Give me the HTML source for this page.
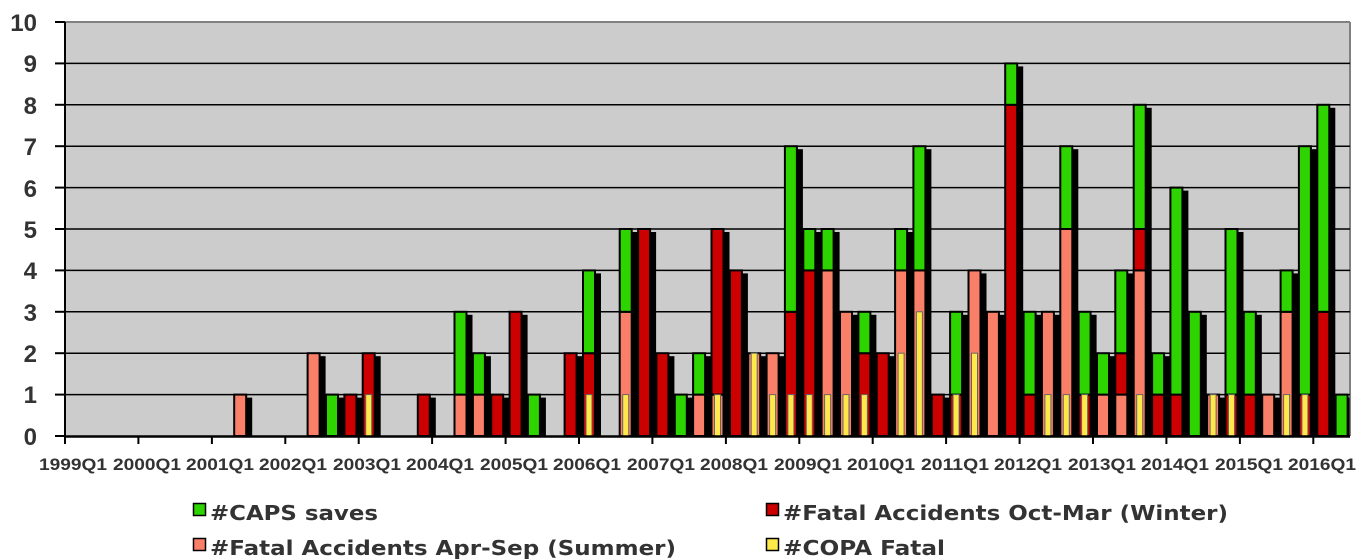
<!DOCTYPE html>
<html><head><meta charset="utf-8"><style>
html,body{margin:0;padding:0;background:#fff;width:1367px;height:559px;overflow:hidden}
svg{display:block}
.k{fill:#000}
.a{fill:#fa7f68;stroke:#000;stroke-width:2}
.r{fill:#cc0000;stroke:#000;stroke-width:2}
.g{fill:#2dd400;stroke:#000;stroke-width:2}
.y{fill:#ffe84a;stroke:#666;stroke-width:1}
</style></head><body>
<svg width="1367" height="559" xmlns="http://www.w3.org/2000/svg">
<rect x="65" y="22" width="1285" height="414" fill="#cccccc"/>
<line x1="65" y1="22" x2="1350" y2="22" stroke="#808080" stroke-width="2"/>
<line x1="1350" y1="22" x2="1350" y2="436" stroke="#808080" stroke-width="2"/>
<g stroke="#000" stroke-width="1.5">
<line x1="65" x2="1350" y1="394.6" y2="394.6"/><line x1="65" x2="1350" y1="353.2" y2="353.2"/><line x1="65" x2="1350" y1="311.8" y2="311.8"/><line x1="65" x2="1350" y1="270.4" y2="270.4"/><line x1="65" x2="1350" y1="229" y2="229"/><line x1="65" x2="1350" y1="187.6" y2="187.6"/><line x1="65" x2="1350" y1="146.2" y2="146.2"/><line x1="65" x2="1350" y1="104.8" y2="104.8"/><line x1="65" x2="1350" y1="63.4" y2="63.4"/>
</g>
<g>
<g transform="translate(234.2,0)"><rect class="k" x="2" y="397.6" width="16" height="38.4"/><rect class="a" x="0" y="394.6" width="12" height="41.4"/></g>
<g transform="translate(307.6,0)"><rect class="k" x="2" y="356.2" width="16" height="79.8"/><rect class="a" x="0" y="353.2" width="12" height="82.8"/></g>
<g transform="translate(326,0)"><rect class="k" x="2" y="397.6" width="16" height="38.4"/><rect class="g" x="0" y="394.6" width="12" height="41.4"/></g>
<g transform="translate(344.4,0)"><rect class="k" x="2" y="397.6" width="16" height="38.4"/><rect class="r" x="0" y="394.6" width="12" height="41.4"/></g>
<g transform="translate(362.7,0)"><rect class="k" x="2" y="356.2" width="16" height="79.8"/><rect class="r" x="0" y="353.2" width="12" height="82.8"/><rect class="y" x="3" y="394.6" width="6" height="41.4"/></g>
<g transform="translate(417.8,0)"><rect class="k" x="2" y="397.6" width="16" height="38.4"/><rect class="r" x="0" y="394.6" width="12" height="41.4"/></g>
<g transform="translate(454.5,0)"><rect class="k" x="2" y="314.8" width="16" height="121.2"/><rect class="a" x="0" y="394.6" width="12" height="41.4"/><rect class="g" x="0" y="311.8" width="12" height="82.8"/></g>
<g transform="translate(472.9,0)"><rect class="k" x="2" y="356.2" width="16" height="79.8"/><rect class="a" x="0" y="394.6" width="12" height="41.4"/><rect class="g" x="0" y="353.2" width="12" height="41.4"/></g>
<g transform="translate(491.2,0)"><rect class="k" x="2" y="397.6" width="16" height="38.4"/><rect class="r" x="0" y="394.6" width="12" height="41.4"/></g>
<g transform="translate(509.6,0)"><rect class="k" x="2" y="314.8" width="16" height="121.2"/><rect class="r" x="0" y="311.8" width="12" height="124.2"/></g>
<g transform="translate(527.9,0)"><rect class="k" x="2" y="397.6" width="16" height="38.4"/><rect class="g" x="0" y="394.6" width="12" height="41.4"/></g>
<g transform="translate(564.6,0)"><rect class="k" x="2" y="356.2" width="16" height="79.8"/><rect class="r" x="0" y="353.2" width="12" height="82.8"/></g>
<g transform="translate(583,0)"><rect class="k" x="2" y="273.4" width="16" height="162.6"/><rect class="r" x="0" y="353.2" width="12" height="82.8"/><rect class="g" x="0" y="270.4" width="12" height="82.8"/><rect class="y" x="3" y="394.6" width="6" height="41.4"/></g>
<g transform="translate(619.7,0)"><rect class="k" x="2" y="232" width="16" height="204"/><rect class="a" x="0" y="311.8" width="12" height="124.2"/><rect class="g" x="0" y="229" width="12" height="82.8"/><rect class="y" x="3" y="394.6" width="6" height="41.4"/></g>
<g transform="translate(638.1,0)"><rect class="k" x="2" y="232" width="16" height="204"/><rect class="r" x="0" y="229" width="12" height="207"/></g>
<g transform="translate(656.4,0)"><rect class="k" x="2" y="356.2" width="16" height="79.8"/><rect class="r" x="0" y="353.2" width="12" height="82.8"/></g>
<g transform="translate(674.8,0)"><rect class="k" x="2" y="397.6" width="16" height="38.4"/><rect class="g" x="0" y="394.6" width="12" height="41.4"/></g>
<g transform="translate(693.1,0)"><rect class="k" x="2" y="356.2" width="16" height="79.8"/><rect class="a" x="0" y="394.6" width="12" height="41.4"/><rect class="g" x="0" y="353.2" width="12" height="41.4"/></g>
<g transform="translate(711.5,0)"><rect class="k" x="2" y="232" width="16" height="204"/><rect class="a" x="0" y="394.6" width="12" height="41.4"/><rect class="r" x="0" y="229" width="12" height="165.6"/><rect class="y" x="3" y="394.6" width="6" height="41.4"/></g>
<g transform="translate(729.9,0)"><rect class="k" x="2" y="273.4" width="16" height="162.6"/><rect class="r" x="0" y="270.4" width="12" height="165.6"/></g>
<g transform="translate(748.2,0)"><rect class="k" x="2" y="356.2" width="16" height="79.8"/><rect class="a" x="0" y="353.2" width="12" height="82.8"/><rect class="y" x="3" y="353.2" width="6" height="82.8"/></g>
<g transform="translate(766.6,0)"><rect class="k" x="2" y="356.2" width="16" height="79.8"/><rect class="a" x="0" y="353.2" width="12" height="82.8"/><rect class="y" x="3" y="394.6" width="6" height="41.4"/></g>
<g transform="translate(784.9,0)"><rect class="k" x="2" y="149.2" width="16" height="286.8"/><rect class="r" x="0" y="311.8" width="12" height="124.2"/><rect class="g" x="0" y="146.2" width="12" height="165.6"/><rect class="y" x="3" y="394.6" width="6" height="41.4"/></g>
<g transform="translate(803.3,0)"><rect class="k" x="2" y="232" width="16" height="204"/><rect class="r" x="0" y="270.4" width="12" height="165.6"/><rect class="g" x="0" y="229" width="12" height="41.4"/><rect class="y" x="3" y="394.6" width="6" height="41.4"/></g>
<g transform="translate(821.6,0)"><rect class="k" x="2" y="232" width="16" height="204"/><rect class="a" x="0" y="270.4" width="12" height="165.6"/><rect class="g" x="0" y="229" width="12" height="41.4"/><rect class="y" x="3" y="394.6" width="6" height="41.4"/></g>
<g transform="translate(840,0)"><rect class="k" x="2" y="314.8" width="16" height="121.2"/><rect class="a" x="0" y="311.8" width="12" height="124.2"/><rect class="y" x="3" y="394.6" width="6" height="41.4"/></g>
<g transform="translate(858.4,0)"><rect class="k" x="2" y="314.8" width="16" height="121.2"/><rect class="r" x="0" y="353.2" width="12" height="82.8"/><rect class="g" x="0" y="311.8" width="12" height="41.4"/><rect class="y" x="3" y="394.6" width="6" height="41.4"/></g>
<g transform="translate(876.7,0)"><rect class="k" x="2" y="356.2" width="16" height="79.8"/><rect class="r" x="0" y="353.2" width="12" height="82.8"/></g>
<g transform="translate(895.1,0)"><rect class="k" x="2" y="232" width="16" height="204"/><rect class="a" x="0" y="270.4" width="12" height="165.6"/><rect class="g" x="0" y="229" width="12" height="41.4"/><rect class="y" x="3" y="353.2" width="6" height="82.8"/></g>
<g transform="translate(913.4,0)"><rect class="k" x="2" y="149.2" width="16" height="286.8"/><rect class="a" x="0" y="270.4" width="12" height="165.6"/><rect class="g" x="0" y="146.2" width="12" height="124.2"/><rect class="y" x="3" y="311.8" width="6" height="124.2"/></g>
<g transform="translate(931.8,0)"><rect class="k" x="2" y="397.6" width="16" height="38.4"/><rect class="r" x="0" y="394.6" width="12" height="41.4"/></g>
<g transform="translate(950.1,0)"><rect class="k" x="2" y="314.8" width="16" height="121.2"/><rect class="r" x="0" y="394.6" width="12" height="41.4"/><rect class="g" x="0" y="311.8" width="12" height="82.8"/><rect class="y" x="3" y="394.6" width="6" height="41.4"/></g>
<g transform="translate(968.5,0)"><rect class="k" x="2" y="273.4" width="16" height="162.6"/><rect class="a" x="0" y="270.4" width="12" height="165.6"/><rect class="y" x="3" y="353.2" width="6" height="82.8"/></g>
<g transform="translate(986.9,0)"><rect class="k" x="2" y="314.8" width="16" height="121.2"/><rect class="a" x="0" y="311.8" width="12" height="124.2"/></g>
<g transform="translate(1005.2,0)"><rect class="k" x="2" y="66.4" width="16" height="369.6"/><rect class="r" x="0" y="104.8" width="12" height="331.2"/><rect class="g" x="0" y="63.4" width="12" height="41.4"/></g>
<g transform="translate(1023.6,0)"><rect class="k" x="2" y="314.8" width="16" height="121.2"/><rect class="r" x="0" y="394.6" width="12" height="41.4"/><rect class="g" x="0" y="311.8" width="12" height="82.8"/></g>
<g transform="translate(1041.9,0)"><rect class="k" x="2" y="314.8" width="16" height="121.2"/><rect class="a" x="0" y="311.8" width="12" height="124.2"/><rect class="y" x="3" y="394.6" width="6" height="41.4"/></g>
<g transform="translate(1060.3,0)"><rect class="k" x="2" y="149.2" width="16" height="286.8"/><rect class="a" x="0" y="229" width="12" height="207"/><rect class="g" x="0" y="146.2" width="12" height="82.8"/><rect class="y" x="3" y="394.6" width="6" height="41.4"/></g>
<g transform="translate(1078.6,0)"><rect class="k" x="2" y="314.8" width="16" height="121.2"/><rect class="r" x="0" y="394.6" width="12" height="41.4"/><rect class="g" x="0" y="311.8" width="12" height="82.8"/><rect class="y" x="3" y="394.6" width="6" height="41.4"/></g>
<g transform="translate(1097,0)"><rect class="k" x="2" y="356.2" width="16" height="79.8"/><rect class="a" x="0" y="394.6" width="12" height="41.4"/><rect class="g" x="0" y="353.2" width="12" height="41.4"/></g>
<g transform="translate(1115.3,0)"><rect class="k" x="2" y="273.4" width="16" height="162.6"/><rect class="a" x="0" y="394.6" width="12" height="41.4"/><rect class="r" x="0" y="353.2" width="12" height="41.4"/><rect class="g" x="0" y="270.4" width="12" height="82.8"/></g>
<g transform="translate(1133.7,0)"><rect class="k" x="2" y="107.8" width="16" height="328.2"/><rect class="a" x="0" y="270.4" width="12" height="165.6"/><rect class="r" x="0" y="229" width="12" height="41.4"/><rect class="g" x="0" y="104.8" width="12" height="124.2"/><rect class="y" x="3" y="394.6" width="6" height="41.4"/></g>
<g transform="translate(1152.1,0)"><rect class="k" x="2" y="356.2" width="16" height="79.8"/><rect class="r" x="0" y="394.6" width="12" height="41.4"/><rect class="g" x="0" y="353.2" width="12" height="41.4"/></g>
<g transform="translate(1170.4,0)"><rect class="k" x="2" y="190.6" width="16" height="245.4"/><rect class="r" x="0" y="394.6" width="12" height="41.4"/><rect class="g" x="0" y="187.6" width="12" height="207"/></g>
<g transform="translate(1188.8,0)"><rect class="k" x="2" y="314.8" width="16" height="121.2"/><rect class="g" x="0" y="311.8" width="12" height="124.2"/></g>
<g transform="translate(1207.1,0)"><rect class="k" x="2" y="397.6" width="16" height="38.4"/><rect class="a" x="0" y="394.6" width="12" height="41.4"/><rect class="y" x="3" y="394.6" width="6" height="41.4"/></g>
<g transform="translate(1225.5,0)"><rect class="k" x="2" y="232" width="16" height="204"/><rect class="r" x="0" y="394.6" width="12" height="41.4"/><rect class="g" x="0" y="229" width="12" height="165.6"/><rect class="y" x="3" y="394.6" width="6" height="41.4"/></g>
<g transform="translate(1243.8,0)"><rect class="k" x="2" y="314.8" width="16" height="121.2"/><rect class="r" x="0" y="394.6" width="12" height="41.4"/><rect class="g" x="0" y="311.8" width="12" height="82.8"/></g>
<g transform="translate(1262.2,0)"><rect class="k" x="2" y="397.6" width="16" height="38.4"/><rect class="a" x="0" y="394.6" width="12" height="41.4"/></g>
<g transform="translate(1280.6,0)"><rect class="k" x="2" y="273.4" width="16" height="162.6"/><rect class="a" x="0" y="311.8" width="12" height="124.2"/><rect class="g" x="0" y="270.4" width="12" height="41.4"/><rect class="y" x="3" y="394.6" width="6" height="41.4"/></g>
<g transform="translate(1298.9,0)"><rect class="k" x="2" y="149.2" width="16" height="286.8"/><rect class="r" x="0" y="394.6" width="12" height="41.4"/><rect class="g" x="0" y="146.2" width="12" height="248.4"/><rect class="y" x="3" y="394.6" width="6" height="41.4"/></g>
<g transform="translate(1317.3,0)"><rect class="k" x="2" y="107.8" width="16" height="328.2"/><rect class="r" x="0" y="311.8" width="12" height="124.2"/><rect class="g" x="0" y="104.8" width="12" height="207"/></g>
<g transform="translate(1335.6,0)"><rect class="k" x="2" y="397.6" width="12" height="38.4"/><rect class="g" x="0" y="394.6" width="12" height="41.4"/></g>
</g>
<line x1="65" y1="22" x2="65" y2="437" stroke="#000" stroke-width="2"/>
<line x1="64" y1="436.5" x2="1350" y2="436.5" stroke="#000" stroke-width="2.5"/>
<g stroke="#000" stroke-width="2">
<line x1="55" x2="65" y1="436" y2="436"/><line x1="55" x2="65" y1="394.6" y2="394.6"/><line x1="55" x2="65" y1="353.2" y2="353.2"/><line x1="55" x2="65" y1="311.8" y2="311.8"/><line x1="55" x2="65" y1="270.4" y2="270.4"/><line x1="55" x2="65" y1="229" y2="229"/><line x1="55" x2="65" y1="187.6" y2="187.6"/><line x1="55" x2="65" y1="146.2" y2="146.2"/><line x1="55" x2="65" y1="104.8" y2="104.8"/><line x1="55" x2="65" y1="63.4" y2="63.4"/><line x1="55" x2="65" y1="22" y2="22"/>
<line x1="65" x2="65" y1="436" y2="444"/><line x1="138.4" x2="138.4" y1="436" y2="444"/><line x1="211.9" x2="211.9" y1="436" y2="444"/><line x1="285.3" x2="285.3" y1="436" y2="444"/><line x1="358.7" x2="358.7" y1="436" y2="444"/><line x1="432.1" x2="432.1" y1="436" y2="444"/><line x1="505.6" x2="505.6" y1="436" y2="444"/><line x1="579" x2="579" y1="436" y2="444"/><line x1="652.4" x2="652.4" y1="436" y2="444"/><line x1="725.9" x2="725.9" y1="436" y2="444"/><line x1="799.3" x2="799.3" y1="436" y2="444"/><line x1="872.7" x2="872.7" y1="436" y2="444"/><line x1="946.1" x2="946.1" y1="436" y2="444"/><line x1="1019.6" x2="1019.6" y1="436" y2="444"/><line x1="1093" x2="1093" y1="436" y2="444"/><line x1="1166.4" x2="1166.4" y1="436" y2="444"/><line x1="1239.9" x2="1239.9" y1="436" y2="444"/><line x1="1313.3" x2="1313.3" y1="436" y2="444"/>
</g>
<g font-family="Liberation Sans, Arial, sans-serif" font-weight="bold" font-size="24" fill="#333" text-anchor="end">
<text x="37" y="31">10</text><text x="37" y="72">9</text><text x="37" y="114">8</text><text x="37" y="155">7</text><text x="37" y="197">6</text><text x="37" y="238">5</text><text x="37" y="279">4</text><text x="37" y="321">3</text><text x="37" y="362">2</text><text x="37" y="403">1</text><text x="37" y="445">0</text>
</g>
<g font-family="Liberation Sans, Arial, sans-serif" font-weight="bold" font-size="17" fill="#333">
<text x="39" y="470" textLength="68" lengthAdjust="spacingAndGlyphs">1999Q1</text>
<text x="113" y="470" textLength="68" lengthAdjust="spacingAndGlyphs">2000Q1</text>
<text x="186" y="470" textLength="68" lengthAdjust="spacingAndGlyphs">2001Q1</text>
<text x="259" y="470" textLength="68" lengthAdjust="spacingAndGlyphs">2002Q1</text>
<text x="333" y="470" textLength="68" lengthAdjust="spacingAndGlyphs">2003Q1</text>
<text x="406" y="470" textLength="68" lengthAdjust="spacingAndGlyphs">2004Q1</text>
<text x="480" y="470" textLength="68" lengthAdjust="spacingAndGlyphs">2005Q1</text>
<text x="553" y="470" textLength="68" lengthAdjust="spacingAndGlyphs">2006Q1</text>
<text x="627" y="470" textLength="68" lengthAdjust="spacingAndGlyphs">2007Q1</text>
<text x="700" y="470" textLength="68" lengthAdjust="spacingAndGlyphs">2008Q1</text>
<text x="774" y="470" textLength="68" lengthAdjust="spacingAndGlyphs">2009Q1</text>
<text x="847" y="470" textLength="68" lengthAdjust="spacingAndGlyphs">2010Q1</text>
<text x="921" y="470" textLength="68" lengthAdjust="spacingAndGlyphs">2011Q1</text>
<text x="994" y="470" textLength="68" lengthAdjust="spacingAndGlyphs">2012Q1</text>
<text x="1068" y="470" textLength="68" lengthAdjust="spacingAndGlyphs">2013Q1</text>
<text x="1141" y="470" textLength="68" lengthAdjust="spacingAndGlyphs">2014Q1</text>
<text x="1215" y="470" textLength="68" lengthAdjust="spacingAndGlyphs">2015Q1</text>
<text x="1288" y="470" textLength="68" lengthAdjust="spacingAndGlyphs">2016Q1</text>
</g>
<g stroke="#000" stroke-width="1.5">
<rect x="193.5" y="503.5" width="12" height="12" fill="#2dd400"/>
<rect x="193.5" y="538.5" width="12" height="12" fill="#fa7f68"/>
<rect x="766.5" y="503.5" width="12" height="12" fill="#cc0000"/>
<rect x="766.5" y="538.5" width="12" height="12" fill="#ffe84a"/>
</g>
<g font-family="DejaVu Sans, Verdana, sans-serif" font-weight="bold" font-size="20" fill="#333">
<text x="210" y="520" textLength="168" lengthAdjust="spacingAndGlyphs">#CAPS saves</text>
<text x="210" y="555" textLength="466" lengthAdjust="spacingAndGlyphs">#Fatal Accidents Apr-Sep (Summer)</text>
<text x="783" y="520" textLength="445" lengthAdjust="spacingAndGlyphs">#Fatal Accidents Oct-Mar (Winter)</text>
<text x="783" y="555" textLength="162" lengthAdjust="spacingAndGlyphs">#COPA Fatal</text>
</g>
</svg>
</body></html>
